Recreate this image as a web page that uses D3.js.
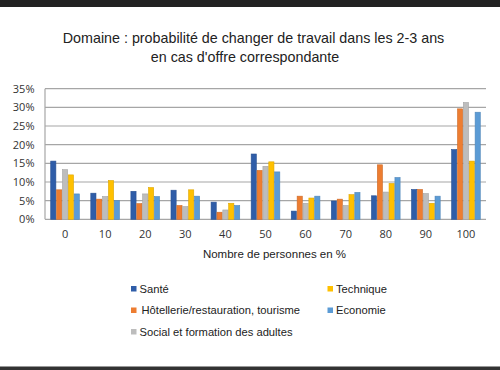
<!DOCTYPE html>
<html>
<meta charset="utf-8">
<style>
body { margin: 0; background: #fff; }
.tick text { font-family: "Open Sans", sans-serif; font-size: 10.5px; fill: #333; }
.title { font-family: "Liberation Sans", sans-serif; font-size: 14.3px; fill: #222; }
.legend text { font-family: "Liberation Sans", sans-serif; font-size: 11.2px; fill: #222; }
</style>
<body>
<script src="https://d3js.org/d3.v7.min.js"></script>
<script>
// categories (nombre de personnes en %)
var categories = ["0", "10", "20", "30", "40", "50", "60", "70", "80", "90", "100"];
var seriesNames = ["Santé", "Hôtellerie/restauration, tourisme", "Social et formation des adultes", "Technique", "Economie"];
var colors = ["#2f5da8", "#ed7d31", "#bdbdbd", "#ffc000", "#5b9bd5"];

var sante      = [15.6, 7.0, 7.5, 7.8, 4.6, 17.5, 2.2, 4.9, 6.3, 8.0, 18.7];
var hotellerie = [7.9, 5.4, 4.2, 3.7, 1.9, 13.1, 6.2, 5.4, 14.6, 8.0, 29.6];
var social     = [13.3, 6.1, 6.8, 3.4, 2.5, 14.2, 4.3, 3.7, 7.3, 6.9, 31.3];
var technique  = [11.9, 10.4, 8.5, 7.9, 4.3, 15.4, 5.7, 6.6, 9.6, 4.3, 15.6];
var economie   = [6.8, 5.0, 6.1, 6.2, 3.7, 12.7, 6.2, 7.2, 11.2, 6.2, 28.7];
var seriesValues = [sante, hotellerie, social, technique, economie];

var yTicks = [0, 5, 10, 15, 20, 25, 30, 35];

var svg = d3.select("body").append("svg")
    .attr("width", 500)
    .attr("height", 370);

// black bars top and bottom
svg.append("rect").attr("x", 0).attr("y", 0).attr("width", 500).attr("height", 7).style("fill", "#222");
svg.append("rect").attr("x", 0).attr("y", 366.5).attr("width", 500).attr("height", 4).style("fill", "#333");

// title
svg.append("text").attr("class", "title").attr("x", 253.5).attr("y", 42.5)
    .style("text-anchor", "middle").text("Domaine : probabilité de changer de travail dans les 2-3 ans");
svg.append("text").attr("class", "title").attr("x", 245).attr("y", 62)
    .style("text-anchor", "middle").text("en cas d'offre correspondante");

var x0 = d3.scaleBand().domain(categories).range([45, 486]).paddingInner(0.25).paddingOuter(0.125);
var x1 = d3.scaleBand().domain(d3.range(seriesNames.length)).range([0, x0.bandwidth()]).padding(0.12);
var y = d3.scaleLinear().domain([0, 35]).range([219.3, 88.7]);

// gridlines
svg.append("g").selectAll("line")
    .data(yTicks)
  .enter().append("line")
    .attr("x1", 45).attr("x2", 486)
    .attr("y1", function(d) { return y(d); })
    .attr("y2", function(d) { return y(d); })
    .style("stroke", "#a6a6a6")
    .style("stroke-width", 1.2);

// y axis labels
var yAxis = d3.axisLeft(y).tickValues(yTicks).tickSize(0).tickPadding(10.5)
    .tickFormat(function(d) { return d + "%"; });
svg.append("g").attr("transform", "translate(45,0)").call(yAxis)
    .call(function(g) { g.select(".domain").remove(); });

// y axis line
svg.append("line").attr("x1", 45).attr("x2", 45).attr("y1", y(0)).attr("y2", y(35))
    .style("stroke", "#a6a6a6").style("stroke-width", 1.2);

// x axis labels
var xAxis = d3.axisBottom(x0).tickSize(0).tickPadding(10.5);
svg.append("g").attr("transform", "translate(0," + y(0) + ")").call(xAxis)
    .call(function(g) { g.select(".domain").remove(); });
svg.selectAll(".tick text").style("font-size", "11px");

svg.append("text").attr("x", 274.5).attr("y", 258)
    .style("text-anchor", "middle")
    .style("font-family", "Liberation Sans, sans-serif").style("font-size", "11.5px").style("fill", "#222")
    .text("Nombre de personnes en %");

// bars
var groups = svg.append("g").selectAll("g")
    .data(categories)
  .enter().append("g")
    .attr("transform", function(d) { return "translate(" + x0(d) + ",0)"; });

groups.selectAll("rect")
    .data(function(d, i) { return seriesValues.map(function(s, j) { return {k: j, v: s[i]}; }); })
  .enter().append("rect")
    .attr("x", function(d) { return x1(d.k); })
    .attr("width", x1.bandwidth())
    .attr("y", function(d) { return y(d.v); })
    .attr("height", function(d) { return y(0) - y(d.v); })
    .style("fill", function(d) { return colors[d.k]; })
    .style("stroke", function(d) { return d3.color(colors[d.k]).darker(0.4); })
    .style("stroke-width", 0.6);

// legend
var legendPos = [[131, 289], [131, 310.5], [131, 332], [327.5, 289], [327.5, 310.5]];
var legend = svg.append("g").attr("class", "legend").selectAll("g")
    .data(seriesNames)
  .enter().append("g")
    .attr("transform", function(d, i) { return "translate(" + legendPos[i][0] + "," + legendPos[i][1] + ")"; });

legend.append("rect")
    .attr("x", 0).attr("y", -3).attr("width", 5.5).attr("height", 5.5)
    .style("fill", function(d, i) { return colors[i]; });

legend.append("text")
    .attr("x", function(d, i) { return i == 1 ? 10.5 : 8.5; })
    .attr("y", 0)
    .attr("dy", ".35em")
    .text(function(d) { return d; });
</script>
</body>
</html>
